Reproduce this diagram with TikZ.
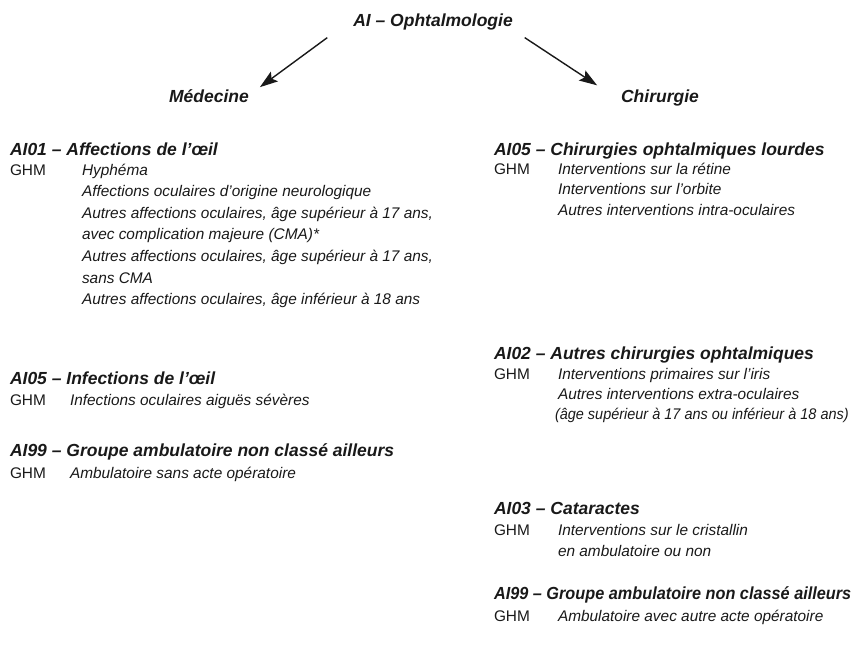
\documentclass[tikz,border=0pt]{standalone}
\usepackage{fontspec}
\setmainfont{Liberation Sans}
\usetikzlibrary{arrows.meta}
\begin{document}
\begin{tikzpicture}[x=1pt,y=-1pt,
  every node/.style={inner sep=0pt,outer sep=0pt,anchor=base west,text=black!90},
  ttl/.style={font=\fontsize{17.5}{20}\selectfont\bfseries\itshape},
  head/.style={font=\fontsize{17.5}{20}\selectfont\bfseries\itshape},
  ghm/.style={font=\fontsize{15.4}{20}\selectfont},
  body/.style={font=\fontsize{15.4}{20}\selectfont\itshape},
  arr/.style={line width=1.4pt,black!90,-{Stealth[length=18pt,width=12pt,inset=3.5pt]}}]
\useasboundingbox (0,0) rectangle (865,646);

% title and branches
\node[ttl,anchor=base] (title) at (433,26) {AI – Ophtalmologie};
\node[ttl,anchor=base] (med) at (209,102) {Médecine};
\node[ttl,anchor=base] (chir) at (660,102) {Chirurgie};
\draw[arr] ([shift={(-26,8)}]title.south west) -- ([shift={(11,-2)}]med.north east);
\draw[arr] ([shift={(12,8)}]title.south east) -- ([shift={(-24,-4)}]chir.north west);

% left column
\node[head] (h1) at (10,155) {AI01 – Affections de l’œil};
\node[ghm] (g1) at (10,175) {GHM};
\node[body] (l1a) at (82,175) {Hyphéma};
\node[body] (l1b) at (82,196.6) {Affections oculaires d’origine neurologique};
\node[body] (l1c) at (82,218.2) {Autres affections oculaires, âge supérieur à 17 ans,};
\node[body] (l1d) at (82,239.8) {avec complication majeure (CMA)*};
\node[body] (l1e) at (82,261.4) {Autres affections oculaires, âge supérieur à 17 ans,};
\node[body] (l1f) at (82,283) {sans CMA};
\node[body] (l1g) at (82,304.6) {Autres affections oculaires, âge inférieur à 18 ans};

\node[head] (h2) at (10,384) {AI05 – Infections de l’œil};
\node[ghm] (g2) at (10,405) {GHM};
\node[body] (l2a) at (70,405) {Infections oculaires aiguës sévères};

\node[head] (h3) at (10,456) {AI99 – Groupe ambulatoire non classé ailleurs};
\node[ghm] (g3) at (10,478) {GHM};
\node[body] (l3a) at (70,478) {Ambulatoire sans acte opératoire};

% right column
\node[head] (h4) at (494,155) {AI05 – Chirurgies ophtalmiques lourdes};
\node[ghm] (g4) at (494,174) {GHM};
\node[body] (l4a) at (558,174) {Interventions sur la rétine};
\node[body] (l4b) at (558,194.8) {Interventions sur l’orbite};
\node[body] (l4c) at (558,215.6) {Autres interventions intra-oculaires};

\node[head] (h5) at (494,359) {AI02 – Autres chirurgies ophtalmiques};
\node[ghm] (g5) at (494,379) {GHM};
\node[body] (l5a) at (558,379) {Interventions primaires sur l’iris};
\node[body] (l5b) at (558,399) {Autres interventions extra-oculaires};
\node[body] (l5c) at (555,419) {\scalebox{0.94}[1]{(âge supérieur à 17 ans ou inférieur à 18 ans)}};

\node[head] (h6) at (494,514) {AI03 – Cataractes};
\node[ghm] (g6) at (494,535) {GHM};
\node[body] (l6a) at (558,535) {Interventions sur le cristallin};
\node[body] (l6b) at (558,556) {en ambulatoire ou non};

\node[head] (h7) at (494,599) {\scalebox{0.93}[1]{AI99 – Groupe ambulatoire non classé ailleurs}};
\node[ghm] (g7) at (494,621) {GHM};
\node[body] (l7a) at (558,621) {Ambulatoire avec autre acte opératoire};
\end{tikzpicture}
\end{document}
